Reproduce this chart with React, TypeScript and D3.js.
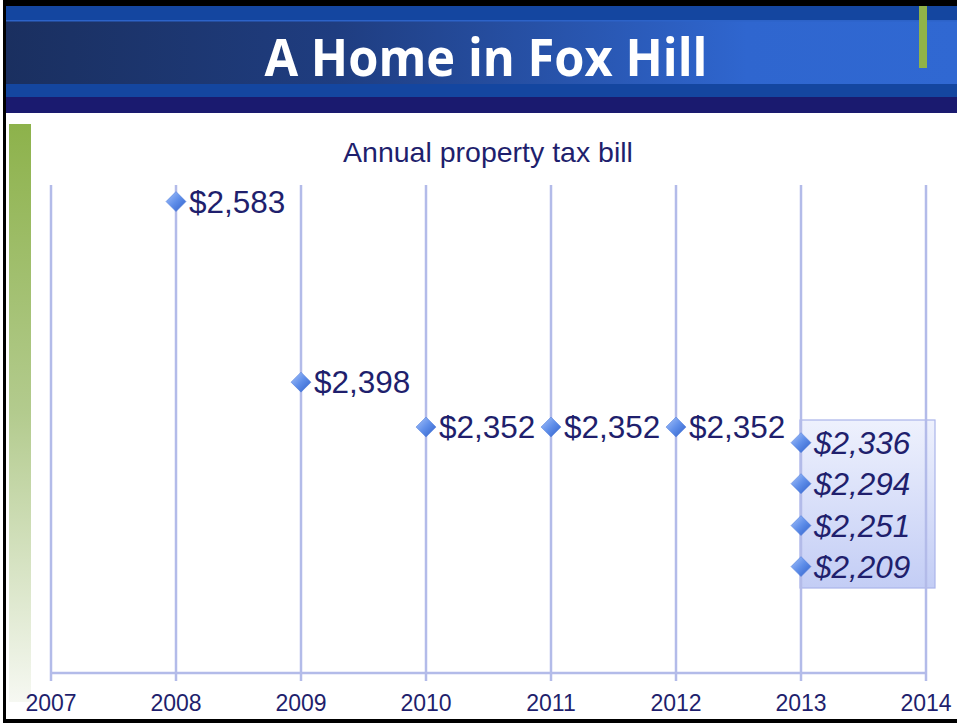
import React from "react";
import * as d3 from "d3";

const years = [2007, 2008, 2009, 2010, 2011, 2012, 2013, 2014];
const actualYears = [2008, 2009, 2010, 2011, 2012];
const actualValues = [2583, 2398, 2352, 2352, 2352];
const forecastYear = 2013;
const forecastValues = [2336, 2294, 2251, 2209];
const chartTitle = "Annual property tax bill";
const slideTitle = "A Home in Fox Hill";

const W = 957;
const H = 723;
const NAVY = "#1f1f6d";
const GRID = "#b3bbe9";

const fmt = (v: number) => "$" + d3.format(",")(v);

export default function App() {
  const x = d3.scaleLinear().domain([2007, 2014]).range([51, 926]);
  const y = d3.scaleLinear().domain([2100, 2600]).range([673, 185]);
  const diamond = (cx: number, cy: number) =>
    `M${cx},${cy - 10} L${cx + 10},${cy} L${cx},${cy + 10} L${cx - 10},${cy} Z`;

  return (
    <svg
      width={W}
      height={H}
      style={{ position: "fixed", top: 0, left: 0, display: "block" }}
      fontFamily="'Liberation Sans', Arial, sans-serif"
    >
      <defs>
        <linearGradient id="hdr" x1="0" x2="1" y1="0" y2="0">
          <stop offset="0" stopColor="#1a2f5f" />
          <stop offset="0.35" stopColor="#1f3d80" />
          <stop offset="0.78" stopColor="#2f66cf" />
          <stop offset="1" stopColor="#3068d2" />
        </linearGradient>
        <linearGradient id="green" x1="0" x2="0" y1="0" y2="1">
          <stop offset="0" stopColor="#8db24b" />
          <stop offset="0.5" stopColor="#b3cb8e" />
          <stop offset="1" stopColor="#f6f8f2" />
        </linearGradient>
        <linearGradient id="box" x1="0" x2="0" y1="0" y2="1">
          <stop offset="0" stopColor="#eef1fd" />
          <stop offset="1" stopColor="#c3cdf5" />
        </linearGradient>
        <linearGradient id="dia" x1="0" x2="1" y1="0" y2="1">
          <stop offset="0" stopColor="#a9c4fb" />
          <stop offset="0.5" stopColor="#5f8ee9" />
          <stop offset="1" stopColor="#2f5fc9" />
        </linearGradient>
      </defs>
      <rect x={0} y={0} width={W} height={H} fill="#ffffff" />
      {/* header */}
      <rect x={0} y={6} width={W} height={15} fill="#1446a0" />
      <rect x={0} y={20} width={W} height={65} fill="url(#hdr)" />
      <rect x={0} y={20} width={W} height={1.5} fill="#2d63c8" />
      <rect x={0} y={84} width={W} height={13} fill="#1446a0" />
      <rect x={0} y={97} width={W} height={16} fill="#1a1a6f" />
      <rect x={919} y={6} width={8} height={62} fill="#91b348" />
      <text
        x={486}
        y={76}
        textAnchor="middle"
        fill="#ffffff"
        fontFamily="'Open Sans', sans-serif"
        fontWeight={700}
        fontSize={52}
        textLength={443}
        lengthAdjust="spacingAndGlyphs"
      >
        {slideTitle}
      </text>
      {/* left accent bar */}
      <rect x={9} y={124} width={22} height={578} fill="url(#green)" />
      {/* chart title */}
      <text x={488} y={162} textAnchor="middle" fill={NAVY} fontSize={28.5}>
        {chartTitle}
      </text>
      {/* forecast box */}
      <rect
        x={800}
        y={420}
        width={135}
        height={168}
        fill="url(#box)"
        stroke="#aab4ea"
        strokeWidth={1.2}
      />
      {/* grid lines */}
      {years.map((yr) => (
        <line
          key={yr}
          x1={x(yr)}
          x2={x(yr)}
          y1={185}
          y2={681}
          stroke={GRID}
          strokeWidth={2.5}
        />
      ))}
      <line x1={x(2007)} x2={x(2014)} y1={673} y2={673} stroke={GRID} strokeWidth={2.5} />
      {years.map((yr) => (
        <text key={"t" + yr} x={x(yr)} y={711} textAnchor="middle" fill={NAVY} fontSize={23}>
          {yr}
        </text>
      ))}
      {/* actual points */}
      {actualYears.map((yr, i) => (
        <g key={"a" + yr}>
          <path d={diamond(x(yr), y(actualValues[i]))} fill="url(#dia)" stroke="#4a78d8" strokeWidth={0.5} />
          <text x={x(yr) + 13} y={y(actualValues[i]) + 11} fill={NAVY} fontSize={31.5}>
            {fmt(actualValues[i])}
          </text>
        </g>
      ))}
      {/* forecast points */}
      {forecastValues.map((v) => (
        <g key={"f" + v}>
          <path d={diamond(x(forecastYear), y(v))} fill="url(#dia)" stroke="#4a78d8" strokeWidth={0.5} />
          <text x={x(forecastYear) + 13} y={y(v) + 11} fill={NAVY} fontSize={31.5} fontStyle="italic">
            {fmt(v)}
          </text>
        </g>
      ))}
      {/* frame */}
      <rect x={0} y={0} width={W} height={6} fill="#000" />
      <rect x={3} y={0} width={3} height={H} fill="#000" />
      <rect x={0} y={719} width={W} height={4} fill="#000" />
      <rect x={0} y={0} width={3} height={H} fill="#fff" />
    </svg>
  );
}
